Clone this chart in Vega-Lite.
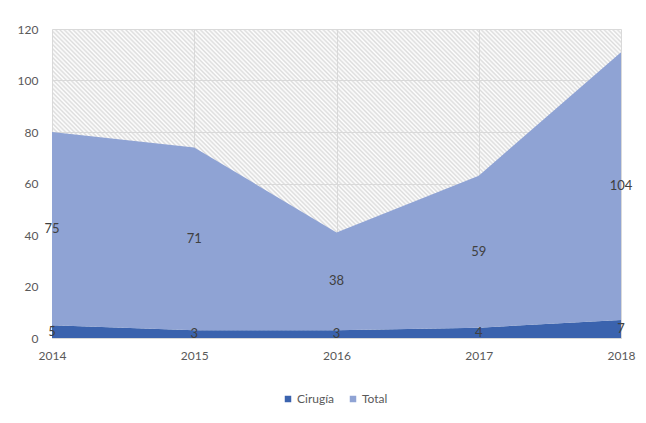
{
  "$schema": "https://vega.github.io/schema/vega-lite/v6.json",
  "width": 569,
  "height": 309,
  "autosize": "none",
  "padding": {"left": 52, "top": 29, "right": 25, "bottom": 85},
  "background": "#ffffff",
  "config": {
    "font": "Lato",
    "view": {
      "stroke": null,
      "fill": {
        "gradient": "linear", "x1": 0, "y1": 1, "x2": 1.1916, "y2": 0.353,
        "stops": [
{"offset":0,"color":"#dcdcdc"},{"offset":0.0025,"color":"#fff"},{"offset":0.005,"color":"#dcdcdc"},{"offset":0.0075,"color":"#fff"},
{"offset":0.01,"color":"#dcdcdc"},{"offset":0.0125,"color":"#fff"},{"offset":0.015,"color":"#dcdcdc"},{"offset":0.0175,"color":"#fff"},
{"offset":0.02,"color":"#dcdcdc"},{"offset":0.0225,"color":"#fff"},{"offset":0.025,"color":"#dcdcdc"},{"offset":0.0275,"color":"#fff"},
{"offset":0.03,"color":"#dcdcdc"},{"offset":0.0325,"color":"#fff"},{"offset":0.035,"color":"#dcdcdc"},{"offset":0.0375,"color":"#fff"},
{"offset":0.04,"color":"#dcdcdc"},{"offset":0.0425,"color":"#fff"},{"offset":0.045,"color":"#dcdcdc"},{"offset":0.0475,"color":"#fff"},
{"offset":0.05,"color":"#dcdcdc"},{"offset":0.0525,"color":"#fff"},{"offset":0.055,"color":"#dcdcdc"},{"offset":0.0575,"color":"#fff"},
{"offset":0.06,"color":"#dcdcdc"},{"offset":0.0625,"color":"#fff"},{"offset":0.065,"color":"#dcdcdc"},{"offset":0.0675,"color":"#fff"},
{"offset":0.07,"color":"#dcdcdc"},{"offset":0.0725,"color":"#fff"},{"offset":0.075,"color":"#dcdcdc"},{"offset":0.0775,"color":"#fff"},
{"offset":0.08,"color":"#dcdcdc"},{"offset":0.0825,"color":"#fff"},{"offset":0.085,"color":"#dcdcdc"},{"offset":0.0875,"color":"#fff"},
{"offset":0.09,"color":"#dcdcdc"},{"offset":0.0925,"color":"#fff"},{"offset":0.095,"color":"#dcdcdc"},{"offset":0.0975,"color":"#fff"},
{"offset":0.10,"color":"#dcdcdc"},{"offset":0.1025,"color":"#fff"},{"offset":0.105,"color":"#dcdcdc"},{"offset":0.1075,"color":"#fff"},
{"offset":0.11,"color":"#dcdcdc"},{"offset":0.1125,"color":"#fff"},{"offset":0.115,"color":"#dcdcdc"},{"offset":0.1175,"color":"#fff"},
{"offset":0.12,"color":"#dcdcdc"},{"offset":0.1225,"color":"#fff"},{"offset":0.125,"color":"#dcdcdc"},{"offset":0.1275,"color":"#fff"},
{"offset":0.13,"color":"#dcdcdc"},{"offset":0.1325,"color":"#fff"},{"offset":0.135,"color":"#dcdcdc"},{"offset":0.1375,"color":"#fff"},
{"offset":0.14,"color":"#dcdcdc"},{"offset":0.1425,"color":"#fff"},{"offset":0.145,"color":"#dcdcdc"},{"offset":0.1475,"color":"#fff"},
{"offset":0.15,"color":"#dcdcdc"},{"offset":0.1525,"color":"#fff"},{"offset":0.155,"color":"#dcdcdc"},{"offset":0.1575,"color":"#fff"},
{"offset":0.16,"color":"#dcdcdc"},{"offset":0.1625,"color":"#fff"},{"offset":0.165,"color":"#dcdcdc"},{"offset":0.1675,"color":"#fff"},
{"offset":0.17,"color":"#dcdcdc"},{"offset":0.1725,"color":"#fff"},{"offset":0.175,"color":"#dcdcdc"},{"offset":0.1775,"color":"#fff"},
{"offset":0.18,"color":"#dcdcdc"},{"offset":0.1825,"color":"#fff"},{"offset":0.185,"color":"#dcdcdc"},{"offset":0.1875,"color":"#fff"},
{"offset":0.19,"color":"#dcdcdc"},{"offset":0.1925,"color":"#fff"},{"offset":0.195,"color":"#dcdcdc"},{"offset":0.1975,"color":"#fff"},
{"offset":0.20,"color":"#dcdcdc"},{"offset":0.2025,"color":"#fff"},{"offset":0.205,"color":"#dcdcdc"},{"offset":0.2075,"color":"#fff"},
{"offset":0.21,"color":"#dcdcdc"},{"offset":0.2125,"color":"#fff"},{"offset":0.215,"color":"#dcdcdc"},{"offset":0.2175,"color":"#fff"},
{"offset":0.22,"color":"#dcdcdc"},{"offset":0.2225,"color":"#fff"},{"offset":0.225,"color":"#dcdcdc"},{"offset":0.2275,"color":"#fff"},
{"offset":0.23,"color":"#dcdcdc"},{"offset":0.2325,"color":"#fff"},{"offset":0.235,"color":"#dcdcdc"},{"offset":0.2375,"color":"#fff"},
{"offset":0.24,"color":"#dcdcdc"},{"offset":0.2425,"color":"#fff"},{"offset":0.245,"color":"#dcdcdc"},{"offset":0.2475,"color":"#fff"},
{"offset":0.25,"color":"#dcdcdc"},{"offset":0.2525,"color":"#fff"},{"offset":0.255,"color":"#dcdcdc"},{"offset":0.2575,"color":"#fff"},
{"offset":0.26,"color":"#dcdcdc"},{"offset":0.2625,"color":"#fff"},{"offset":0.265,"color":"#dcdcdc"},{"offset":0.2675,"color":"#fff"},
{"offset":0.27,"color":"#dcdcdc"},{"offset":0.2725,"color":"#fff"},{"offset":0.275,"color":"#dcdcdc"},{"offset":0.2775,"color":"#fff"},
{"offset":0.28,"color":"#dcdcdc"},{"offset":0.2825,"color":"#fff"},{"offset":0.285,"color":"#dcdcdc"},{"offset":0.2875,"color":"#fff"},
{"offset":0.29,"color":"#dcdcdc"},{"offset":0.2925,"color":"#fff"},{"offset":0.295,"color":"#dcdcdc"},{"offset":0.2975,"color":"#fff"},
{"offset":0.30,"color":"#dcdcdc"},{"offset":0.3025,"color":"#fff"},{"offset":0.305,"color":"#dcdcdc"},{"offset":0.3075,"color":"#fff"},
{"offset":0.31,"color":"#dcdcdc"},{"offset":0.3125,"color":"#fff"},{"offset":0.315,"color":"#dcdcdc"},{"offset":0.3175,"color":"#fff"},
{"offset":0.32,"color":"#dcdcdc"},{"offset":0.3225,"color":"#fff"},{"offset":0.325,"color":"#dcdcdc"},{"offset":0.3275,"color":"#fff"},
{"offset":0.33,"color":"#dcdcdc"},{"offset":0.3325,"color":"#fff"},{"offset":0.335,"color":"#dcdcdc"},{"offset":0.3375,"color":"#fff"},
{"offset":0.34,"color":"#dcdcdc"},{"offset":0.3425,"color":"#fff"},{"offset":0.345,"color":"#dcdcdc"},{"offset":0.3475,"color":"#fff"},
{"offset":0.35,"color":"#dcdcdc"},{"offset":0.3525,"color":"#fff"},{"offset":0.355,"color":"#dcdcdc"},{"offset":0.3575,"color":"#fff"},
{"offset":0.36,"color":"#dcdcdc"},{"offset":0.3625,"color":"#fff"},{"offset":0.365,"color":"#dcdcdc"},{"offset":0.3675,"color":"#fff"},
{"offset":0.37,"color":"#dcdcdc"},{"offset":0.3725,"color":"#fff"},{"offset":0.375,"color":"#dcdcdc"},{"offset":0.3775,"color":"#fff"},
{"offset":0.38,"color":"#dcdcdc"},{"offset":0.3825,"color":"#fff"},{"offset":0.385,"color":"#dcdcdc"},{"offset":0.3875,"color":"#fff"},
{"offset":0.39,"color":"#dcdcdc"},{"offset":0.3925,"color":"#fff"},{"offset":0.395,"color":"#dcdcdc"},{"offset":0.3975,"color":"#fff"},
{"offset":0.40,"color":"#dcdcdc"},{"offset":0.4025,"color":"#fff"},{"offset":0.405,"color":"#dcdcdc"},{"offset":0.4075,"color":"#fff"},
{"offset":0.41,"color":"#dcdcdc"},{"offset":0.4125,"color":"#fff"},{"offset":0.415,"color":"#dcdcdc"},{"offset":0.4175,"color":"#fff"},
{"offset":0.42,"color":"#dcdcdc"},{"offset":0.4225,"color":"#fff"},{"offset":0.425,"color":"#dcdcdc"},{"offset":0.4275,"color":"#fff"},
{"offset":0.43,"color":"#dcdcdc"},{"offset":0.4325,"color":"#fff"},{"offset":0.435,"color":"#dcdcdc"},{"offset":0.4375,"color":"#fff"},
{"offset":0.44,"color":"#dcdcdc"},{"offset":0.4425,"color":"#fff"},{"offset":0.445,"color":"#dcdcdc"},{"offset":0.4475,"color":"#fff"},
{"offset":0.45,"color":"#dcdcdc"},{"offset":0.4525,"color":"#fff"},{"offset":0.455,"color":"#dcdcdc"},{"offset":0.4575,"color":"#fff"},
{"offset":0.46,"color":"#dcdcdc"},{"offset":0.4625,"color":"#fff"},{"offset":0.465,"color":"#dcdcdc"},{"offset":0.4675,"color":"#fff"},
{"offset":0.47,"color":"#dcdcdc"},{"offset":0.4725,"color":"#fff"},{"offset":0.475,"color":"#dcdcdc"},{"offset":0.4775,"color":"#fff"},
{"offset":0.48,"color":"#dcdcdc"},{"offset":0.4825,"color":"#fff"},{"offset":0.485,"color":"#dcdcdc"},{"offset":0.4875,"color":"#fff"},
{"offset":0.49,"color":"#dcdcdc"},{"offset":0.4925,"color":"#fff"},{"offset":0.495,"color":"#dcdcdc"},{"offset":0.4975,"color":"#fff"},
{"offset":0.50,"color":"#dcdcdc"},{"offset":0.5025,"color":"#fff"},{"offset":0.505,"color":"#dcdcdc"},{"offset":0.5075,"color":"#fff"},
{"offset":0.51,"color":"#dcdcdc"},{"offset":0.5125,"color":"#fff"},{"offset":0.515,"color":"#dcdcdc"},{"offset":0.5175,"color":"#fff"},
{"offset":0.52,"color":"#dcdcdc"},{"offset":0.5225,"color":"#fff"},{"offset":0.525,"color":"#dcdcdc"},{"offset":0.5275,"color":"#fff"},
{"offset":0.53,"color":"#dcdcdc"},{"offset":0.5325,"color":"#fff"},{"offset":0.535,"color":"#dcdcdc"},{"offset":0.5375,"color":"#fff"},
{"offset":0.54,"color":"#dcdcdc"},{"offset":0.5425,"color":"#fff"},{"offset":0.545,"color":"#dcdcdc"},{"offset":0.5475,"color":"#fff"},
{"offset":0.55,"color":"#dcdcdc"},{"offset":0.5525,"color":"#fff"},{"offset":0.555,"color":"#dcdcdc"},{"offset":0.5575,"color":"#fff"},
{"offset":0.56,"color":"#dcdcdc"},{"offset":0.5625,"color":"#fff"},{"offset":0.565,"color":"#dcdcdc"},{"offset":0.5675,"color":"#fff"},
{"offset":0.57,"color":"#dcdcdc"},{"offset":0.5725,"color":"#fff"},{"offset":0.575,"color":"#dcdcdc"},{"offset":0.5775,"color":"#fff"},
{"offset":0.58,"color":"#dcdcdc"},{"offset":0.5825,"color":"#fff"},{"offset":0.585,"color":"#dcdcdc"},{"offset":0.5875,"color":"#fff"},
{"offset":0.59,"color":"#dcdcdc"},{"offset":0.5925,"color":"#fff"},{"offset":0.595,"color":"#dcdcdc"},{"offset":0.5975,"color":"#fff"},
{"offset":0.60,"color":"#dcdcdc"},{"offset":0.6025,"color":"#fff"},{"offset":0.605,"color":"#dcdcdc"},{"offset":0.6075,"color":"#fff"},
{"offset":0.61,"color":"#dcdcdc"},{"offset":0.6125,"color":"#fff"},{"offset":0.615,"color":"#dcdcdc"},{"offset":0.6175,"color":"#fff"},
{"offset":0.62,"color":"#dcdcdc"},{"offset":0.6225,"color":"#fff"},{"offset":0.625,"color":"#dcdcdc"},{"offset":0.6275,"color":"#fff"},
{"offset":0.63,"color":"#dcdcdc"},{"offset":0.6325,"color":"#fff"},{"offset":0.635,"color":"#dcdcdc"},{"offset":0.6375,"color":"#fff"},
{"offset":0.64,"color":"#dcdcdc"},{"offset":0.6425,"color":"#fff"},{"offset":0.645,"color":"#dcdcdc"},{"offset":0.6475,"color":"#fff"},
{"offset":0.65,"color":"#dcdcdc"},{"offset":0.6525,"color":"#fff"},{"offset":0.655,"color":"#dcdcdc"},{"offset":0.6575,"color":"#fff"},
{"offset":0.66,"color":"#dcdcdc"},{"offset":0.6625,"color":"#fff"},{"offset":0.665,"color":"#dcdcdc"},{"offset":0.6675,"color":"#fff"},
{"offset":0.67,"color":"#dcdcdc"},{"offset":0.6725,"color":"#fff"},{"offset":0.675,"color":"#dcdcdc"},{"offset":0.6775,"color":"#fff"},
{"offset":0.68,"color":"#dcdcdc"},{"offset":0.6825,"color":"#fff"},{"offset":0.685,"color":"#dcdcdc"},{"offset":0.6875,"color":"#fff"},
{"offset":0.69,"color":"#dcdcdc"},{"offset":0.6925,"color":"#fff"},{"offset":0.695,"color":"#dcdcdc"},{"offset":0.6975,"color":"#fff"},
{"offset":0.70,"color":"#dcdcdc"},{"offset":0.7025,"color":"#fff"},{"offset":0.705,"color":"#dcdcdc"},{"offset":0.7075,"color":"#fff"},
{"offset":0.71,"color":"#dcdcdc"},{"offset":0.7125,"color":"#fff"},{"offset":0.715,"color":"#dcdcdc"},{"offset":0.7175,"color":"#fff"},
{"offset":0.72,"color":"#dcdcdc"},{"offset":0.7225,"color":"#fff"},{"offset":0.725,"color":"#dcdcdc"},{"offset":0.7275,"color":"#fff"},
{"offset":0.73,"color":"#dcdcdc"},{"offset":0.7325,"color":"#fff"},{"offset":0.735,"color":"#dcdcdc"},{"offset":0.7375,"color":"#fff"},
{"offset":0.74,"color":"#dcdcdc"},{"offset":0.7425,"color":"#fff"},{"offset":0.745,"color":"#dcdcdc"},{"offset":0.7475,"color":"#fff"},
{"offset":0.75,"color":"#dcdcdc"},{"offset":0.7525,"color":"#fff"},{"offset":0.755,"color":"#dcdcdc"},{"offset":0.7575,"color":"#fff"},
{"offset":0.76,"color":"#dcdcdc"},{"offset":0.7625,"color":"#fff"},{"offset":0.765,"color":"#dcdcdc"},{"offset":0.7675,"color":"#fff"},
{"offset":0.77,"color":"#dcdcdc"},{"offset":0.7725,"color":"#fff"},{"offset":0.775,"color":"#dcdcdc"},{"offset":0.7775,"color":"#fff"},
{"offset":0.78,"color":"#dcdcdc"},{"offset":0.7825,"color":"#fff"},{"offset":0.785,"color":"#dcdcdc"},{"offset":0.7875,"color":"#fff"},
{"offset":0.79,"color":"#dcdcdc"},{"offset":0.7925,"color":"#fff"},{"offset":0.795,"color":"#dcdcdc"},{"offset":0.7975,"color":"#fff"},
{"offset":0.80,"color":"#dcdcdc"},{"offset":0.8025,"color":"#fff"},{"offset":0.805,"color":"#dcdcdc"},{"offset":0.8075,"color":"#fff"},
{"offset":0.81,"color":"#dcdcdc"},{"offset":0.8125,"color":"#fff"},{"offset":0.815,"color":"#dcdcdc"},{"offset":0.8175,"color":"#fff"},
{"offset":0.82,"color":"#dcdcdc"},{"offset":0.8225,"color":"#fff"},{"offset":0.825,"color":"#dcdcdc"},{"offset":0.8275,"color":"#fff"},
{"offset":0.83,"color":"#dcdcdc"},{"offset":0.8325,"color":"#fff"},{"offset":0.835,"color":"#dcdcdc"},{"offset":0.8375,"color":"#fff"},
{"offset":0.84,"color":"#dcdcdc"},{"offset":0.8425,"color":"#fff"},{"offset":0.845,"color":"#dcdcdc"},{"offset":0.8475,"color":"#fff"},
{"offset":0.85,"color":"#dcdcdc"},{"offset":0.8525,"color":"#fff"},{"offset":0.855,"color":"#dcdcdc"},{"offset":0.8575,"color":"#fff"},
{"offset":0.86,"color":"#dcdcdc"},{"offset":0.8625,"color":"#fff"},{"offset":0.865,"color":"#dcdcdc"},{"offset":0.8675,"color":"#fff"},
{"offset":0.87,"color":"#dcdcdc"},{"offset":0.8725,"color":"#fff"},{"offset":0.875,"color":"#dcdcdc"},{"offset":0.8775,"color":"#fff"},
{"offset":0.88,"color":"#dcdcdc"},{"offset":0.8825,"color":"#fff"},{"offset":0.885,"color":"#dcdcdc"},{"offset":0.8875,"color":"#fff"},
{"offset":0.89,"color":"#dcdcdc"},{"offset":0.8925,"color":"#fff"},{"offset":0.895,"color":"#dcdcdc"},{"offset":0.8975,"color":"#fff"},
{"offset":0.90,"color":"#dcdcdc"},{"offset":0.9025,"color":"#fff"},{"offset":0.905,"color":"#dcdcdc"},{"offset":0.9075,"color":"#fff"},
{"offset":0.91,"color":"#dcdcdc"},{"offset":0.9125,"color":"#fff"},{"offset":0.915,"color":"#dcdcdc"},{"offset":0.9175,"color":"#fff"},
{"offset":0.92,"color":"#dcdcdc"},{"offset":0.9225,"color":"#fff"},{"offset":0.925,"color":"#dcdcdc"},{"offset":0.9275,"color":"#fff"},
{"offset":0.93,"color":"#dcdcdc"},{"offset":0.9325,"color":"#fff"},{"offset":0.935,"color":"#dcdcdc"},{"offset":0.9375,"color":"#fff"},
{"offset":0.94,"color":"#dcdcdc"},{"offset":0.9425,"color":"#fff"},{"offset":0.945,"color":"#dcdcdc"},{"offset":0.9475,"color":"#fff"},
{"offset":0.95,"color":"#dcdcdc"},{"offset":0.9525,"color":"#fff"},{"offset":0.955,"color":"#dcdcdc"},{"offset":0.9575,"color":"#fff"},
{"offset":0.96,"color":"#dcdcdc"},{"offset":0.9625,"color":"#fff"},{"offset":0.965,"color":"#dcdcdc"},{"offset":0.9675,"color":"#fff"},
{"offset":0.97,"color":"#dcdcdc"},{"offset":0.9725,"color":"#fff"},{"offset":0.975,"color":"#dcdcdc"},{"offset":0.9775,"color":"#fff"},
{"offset":0.98,"color":"#dcdcdc"},{"offset":0.9825,"color":"#fff"},{"offset":0.985,"color":"#dcdcdc"},{"offset":0.9875,"color":"#fff"},
{"offset":0.99,"color":"#dcdcdc"},{"offset":0.9925,"color":"#fff"},{"offset":0.995,"color":"#dcdcdc"},{"offset":0.9975,"color":"#fff"},
{"offset":1,"color":"#dcdcdc"}
        ]
      }
    },
    "axis": {
      "labelFont": "Lato",
      "labelFontSize": 12,
      "labelColor": "#595959",
      "gridColor": "#d9d9d9",
      "gridWidth": 1,
      "ticks": false,
      "title": null
    }
  },
  "data": {
    "values": [
      {"año": 2014, "serie": "Cirugía", "valor": 5},
      {"año": 2015, "serie": "Cirugía", "valor": 3},
      {"año": 2016, "serie": "Cirugía", "valor": 3},
      {"año": 2017, "serie": "Cirugía", "valor": 4},
      {"año": 2018, "serie": "Cirugía", "valor": 7},
      {"año": 2014, "serie": "Total", "valor": 75},
      {"año": 2015, "serie": "Total", "valor": 71},
      {"año": 2016, "serie": "Total", "valor": 38},
      {"año": 2017, "serie": "Total", "valor": 59},
      {"año": 2018, "serie": "Total", "valor": 104}
    ]
  },
  "encoding": {
    "x": {
      "field": "año",
      "type": "quantitative",
      "scale": {"domain": [2014, 2018], "nice": false, "zero": false},
      "axis": {
        "values": [2014, 2015, 2016, 2017, 2018],
        "format": "d",
        "grid": true,
        "domain": true,
        "domainColor": "#d9d9d9",
        "labelPadding": 12,
        "labelFlush": false,
        "labelOverlap": false
      }
    }
  },
  "layer": [
    {
      "mark": {"type": "area", "opacity": 1},
      "encoding": {
        "y": {
          "field": "valor",
          "type": "quantitative",
          "stack": "zero",
          "scale": {"domain": [0, 120], "nice": false},
          "axis": {
            "values": [0, 20, 40, 60, 80, 100, 120],
            "grid": true,
            "domain": false,
            "labelPadding": 14
          }
        },
        "color": {
          "field": "serie",
          "type": "nominal",
          "scale": {"domain": ["Cirugía", "Total"], "range": ["#3b63ae", "#8fa3d4"]},
          "legend": {
            "title": null,
            "orient": "none",
            "direction": "horizontal",
            "legendX": 230,
            "legendY": 364,
            "symbolType": "square",
            "symbolSize": 42,
            "symbolStrokeWidth": 0,
            "labelFont": "Lato",
            "labelFontSize": 12,
            "labelColor": "#595959",
            "labelOffset": 3,
            "columnPadding": 12,
            "padding": 0
          }
        },
        "order": {"field": "serie", "sort": "ascending"}
      }
    },
    {
      "transform": [
        {"stack": "valor", "groupby": ["año"], "sort": [{"field": "serie", "order": "ascending"}], "as": ["v0", "v1"]},
        {"calculate": "(datum.v0 + datum.v1) / 2", "as": "medio"}
      ],
      "mark": {"type": "text", "font": "Lato", "fontSize": 13, "color": "#404040", "align": "center", "baseline": "middle"},
      "encoding": {
        "y": {"field": "medio", "type": "quantitative"},
        "text": {"field": "valor", "type": "quantitative"}
      }
    }
  ]
}
